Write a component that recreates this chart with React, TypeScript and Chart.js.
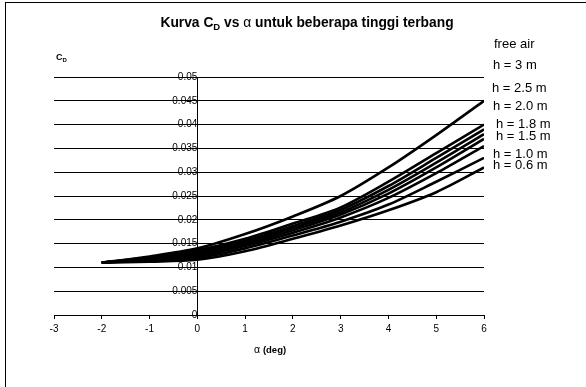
import React, { useEffect, useRef } from "react";
import { Chart, registerables } from "chart.js";

Chart.register(...registerables);

// ---- data ----
const alphaDeg = [-2, -1, 0, 1, 2, 3, 4, 5, 6];
const seriesNames = ["free air", "h = 3 m", "h = 2.5 m", "h = 2.0 m", "h = 1.8 m", "h = 1.5 m", "h = 1.0 m", "h = 0.6 m"];
const cdFreeAir = [0.011, 0.0123, 0.014, 0.017, 0.0207, 0.025, 0.031, 0.0378, 0.045];
const cdH30 = [0.011, 0.0121, 0.0136, 0.016, 0.0192, 0.0226, 0.028, 0.034, 0.04];
const cdH25 = [0.011, 0.012, 0.0133, 0.0156, 0.0187, 0.0221, 0.0271, 0.033, 0.039];
const cdH20 = [0.011, 0.0119, 0.013, 0.0152, 0.0183, 0.0216, 0.0263, 0.032, 0.038];
const cdH18 = [0.011, 0.0118, 0.0127, 0.0148, 0.0178, 0.0211, 0.0255, 0.031, 0.037];
const cdH15 = [0.011, 0.0117, 0.0124, 0.0145, 0.0173, 0.0205, 0.0246, 0.0298, 0.0355];
const cdH10 = [0.011, 0.0115, 0.012, 0.014, 0.0167, 0.0196, 0.0232, 0.028, 0.033];
const cdH06 = [0.011, 0.0112, 0.0116, 0.0134, 0.016, 0.0188, 0.022, 0.0258, 0.031];
const allSeries = [cdFreeAir, cdH30, cdH25, cdH20, cdH18, cdH15, cdH10, cdH06];

const xMin = -3;
const xMax = 6;
const xStep = 1;
const yMin = 0;
const yMax = 0.05;
const yStep = 0.005;

// ---- layout constants (label placement relative to the plot's right edge) ----
const labelLayout = [
  { dx: 10, y: 44 },
  { dx: 9, y: 65 },
  { dx: 8, y: 88 },
  { dx: 9, y: 106.5 },
  { dx: 12, y: 124 },
  { dx: 12, y: 136.5 },
  { dx: 9, y: 154 },
  { dx: 9, y: 165.5 },
];

const FONT = "'Liberation Sans', Arial, Helvetica, sans-serif";

type Run = { text: string; font: string; dy?: number };

function drawRuns(ctx: CanvasRenderingContext2D, runs: Run[], x: number, y: number, center: boolean) {
  let total = 0;
  runs.forEach((r) => {
    ctx.font = r.font;
    total += ctx.measureText(r.text).width;
  });
  let cx = center ? x - total / 2 : x;
  runs.forEach((r) => {
    ctx.font = r.font;
    ctx.fillText(r.text, cx, y + (r.dy || 0));
    cx += ctx.measureText(r.text).width;
  });
}

const textPlugin = {
  id: "textPlugin",
  afterDraw(chart: any) {
    const ctx: CanvasRenderingContext2D = chart.ctx;
    const area = chart.chartArea;
    ctx.save();
    ctx.fillStyle = "#000";
    ctx.textBaseline = "alphabetic";
    ctx.textAlign = "left";

    // title
    const tb = `bold 13.8px ${FONT}`;
    drawRuns(
      ctx,
      [
        { text: "Kurva C", font: tb },
        { text: "D", font: `bold 9.5px ${FONT}`, dy: 3 },
        { text: " vs ", font: tb },
        { text: "α", font: `13.8px ${FONT}` },
        { text: " untuk beberapa tinggi terbang", font: tb },
      ],
      chart.width / 2 + 14,
      27,
      true
    );

    // y axis title
    drawRuns(
      ctx,
      [
        { text: "C", font: `bold 9px ${FONT}` },
        { text: "D", font: `bold 6px ${FONT}`, dy: 2 },
      ],
      area.left + 2,
      60,
      false
    );

    // x axis title
    drawRuns(
      ctx,
      [
        { text: "α ", font: `10.5px ${FONT}` },
        { text: "(deg)", font: `bold 9.5px ${FONT}` },
      ],
      (area.left + area.right) / 2 + 1,
      353,
      true
    );

    // series labels
    ctx.font = `13px ${FONT}`;
    ctx.textBaseline = "middle";
    seriesNames.forEach((name, i) => {
      const l = labelLayout[i];
      ctx.fillText(name, area.right + l.dx, l.y);
    });
    ctx.restore();
  },
};

export default function App() {
  const canvasRef = useRef<HTMLCanvasElement | null>(null);

  useEffect(() => {
    const canvas = canvasRef.current;
    if (!canvas) return;
    const chart = new Chart(canvas, {
      type: "line",
      data: {
        datasets: allSeries.map((s, i) => ({
          label: seriesNames[i],
          data: alphaDeg.map((a, j) => ({ x: a, y: s[j] })),
          borderColor: "#000",
          backgroundColor: "#000",
          borderWidth: 2.6,
          pointRadius: 0,
          tension: 0.3,
          fill: false,
        })),
      },
      options: {
        animation: false,
        responsive: false,
        maintainAspectRatio: false,
        layout: { padding: { left: 54, right: 102, top: 77, bottom: 42 } },
        plugins: {
          legend: { display: false },
          title: { display: false },
          tooltip: { enabled: false },
        },
        scales: {
          x: {
            type: "linear",
            position: "bottom",
            min: xMin,
            max: xMax,
            ticks: {
              stepSize: xStep,
              color: "#000",
              font: { family: FONT, size: 10 },
              padding: 4,
              maxRotation: 0,
            },
            grid: {
              display: true,
              drawOnChartArea: false,
              drawTicks: true,
              tickLength: 4,
              color: "#000",
              lineWidth: 1,
            },
            border: { display: true, color: "#000", width: 1 },
            afterFit: (s: any) => {
              s.height = 30;
            },
          },
          y: {
            type: "linear",
            position: { x: 0 },
            min: yMin,
            max: yMax,
            ticks: {
              stepSize: yStep,
              color: "#000",
              font: { family: FONT, size: 10 },
              padding: 3,
              callback: (v: any) => String(Number(Number(v).toFixed(3))),
            },
            grid: {
              display: true,
              drawOnChartArea: true,
              drawTicks: true,
              tickLength: 4,
              color: "#000",
              lineWidth: 1,
            },
            border: { display: true, color: "#000", width: 1 },
          },
        },
      } as any,
      plugins: [textPlugin],
    });
    return () => chart.destroy();
  }, []);

  return (
    <div style={{ position: "absolute", left: 0, top: 0, width: 586, height: 387, overflow: "hidden", background: "#fff" }}>
      <div
        style={{
          position: "absolute",
          left: 5,
          top: 2,
          width: 700,
          height: 500,
          borderLeft: "1px solid #000",
          borderTop: "1px solid #000",
        }}
      />
      <canvas ref={canvasRef} width={586} height={387} style={{ position: "absolute", left: 0, top: 0, display: "block" }} />
    </div>
  );
}
